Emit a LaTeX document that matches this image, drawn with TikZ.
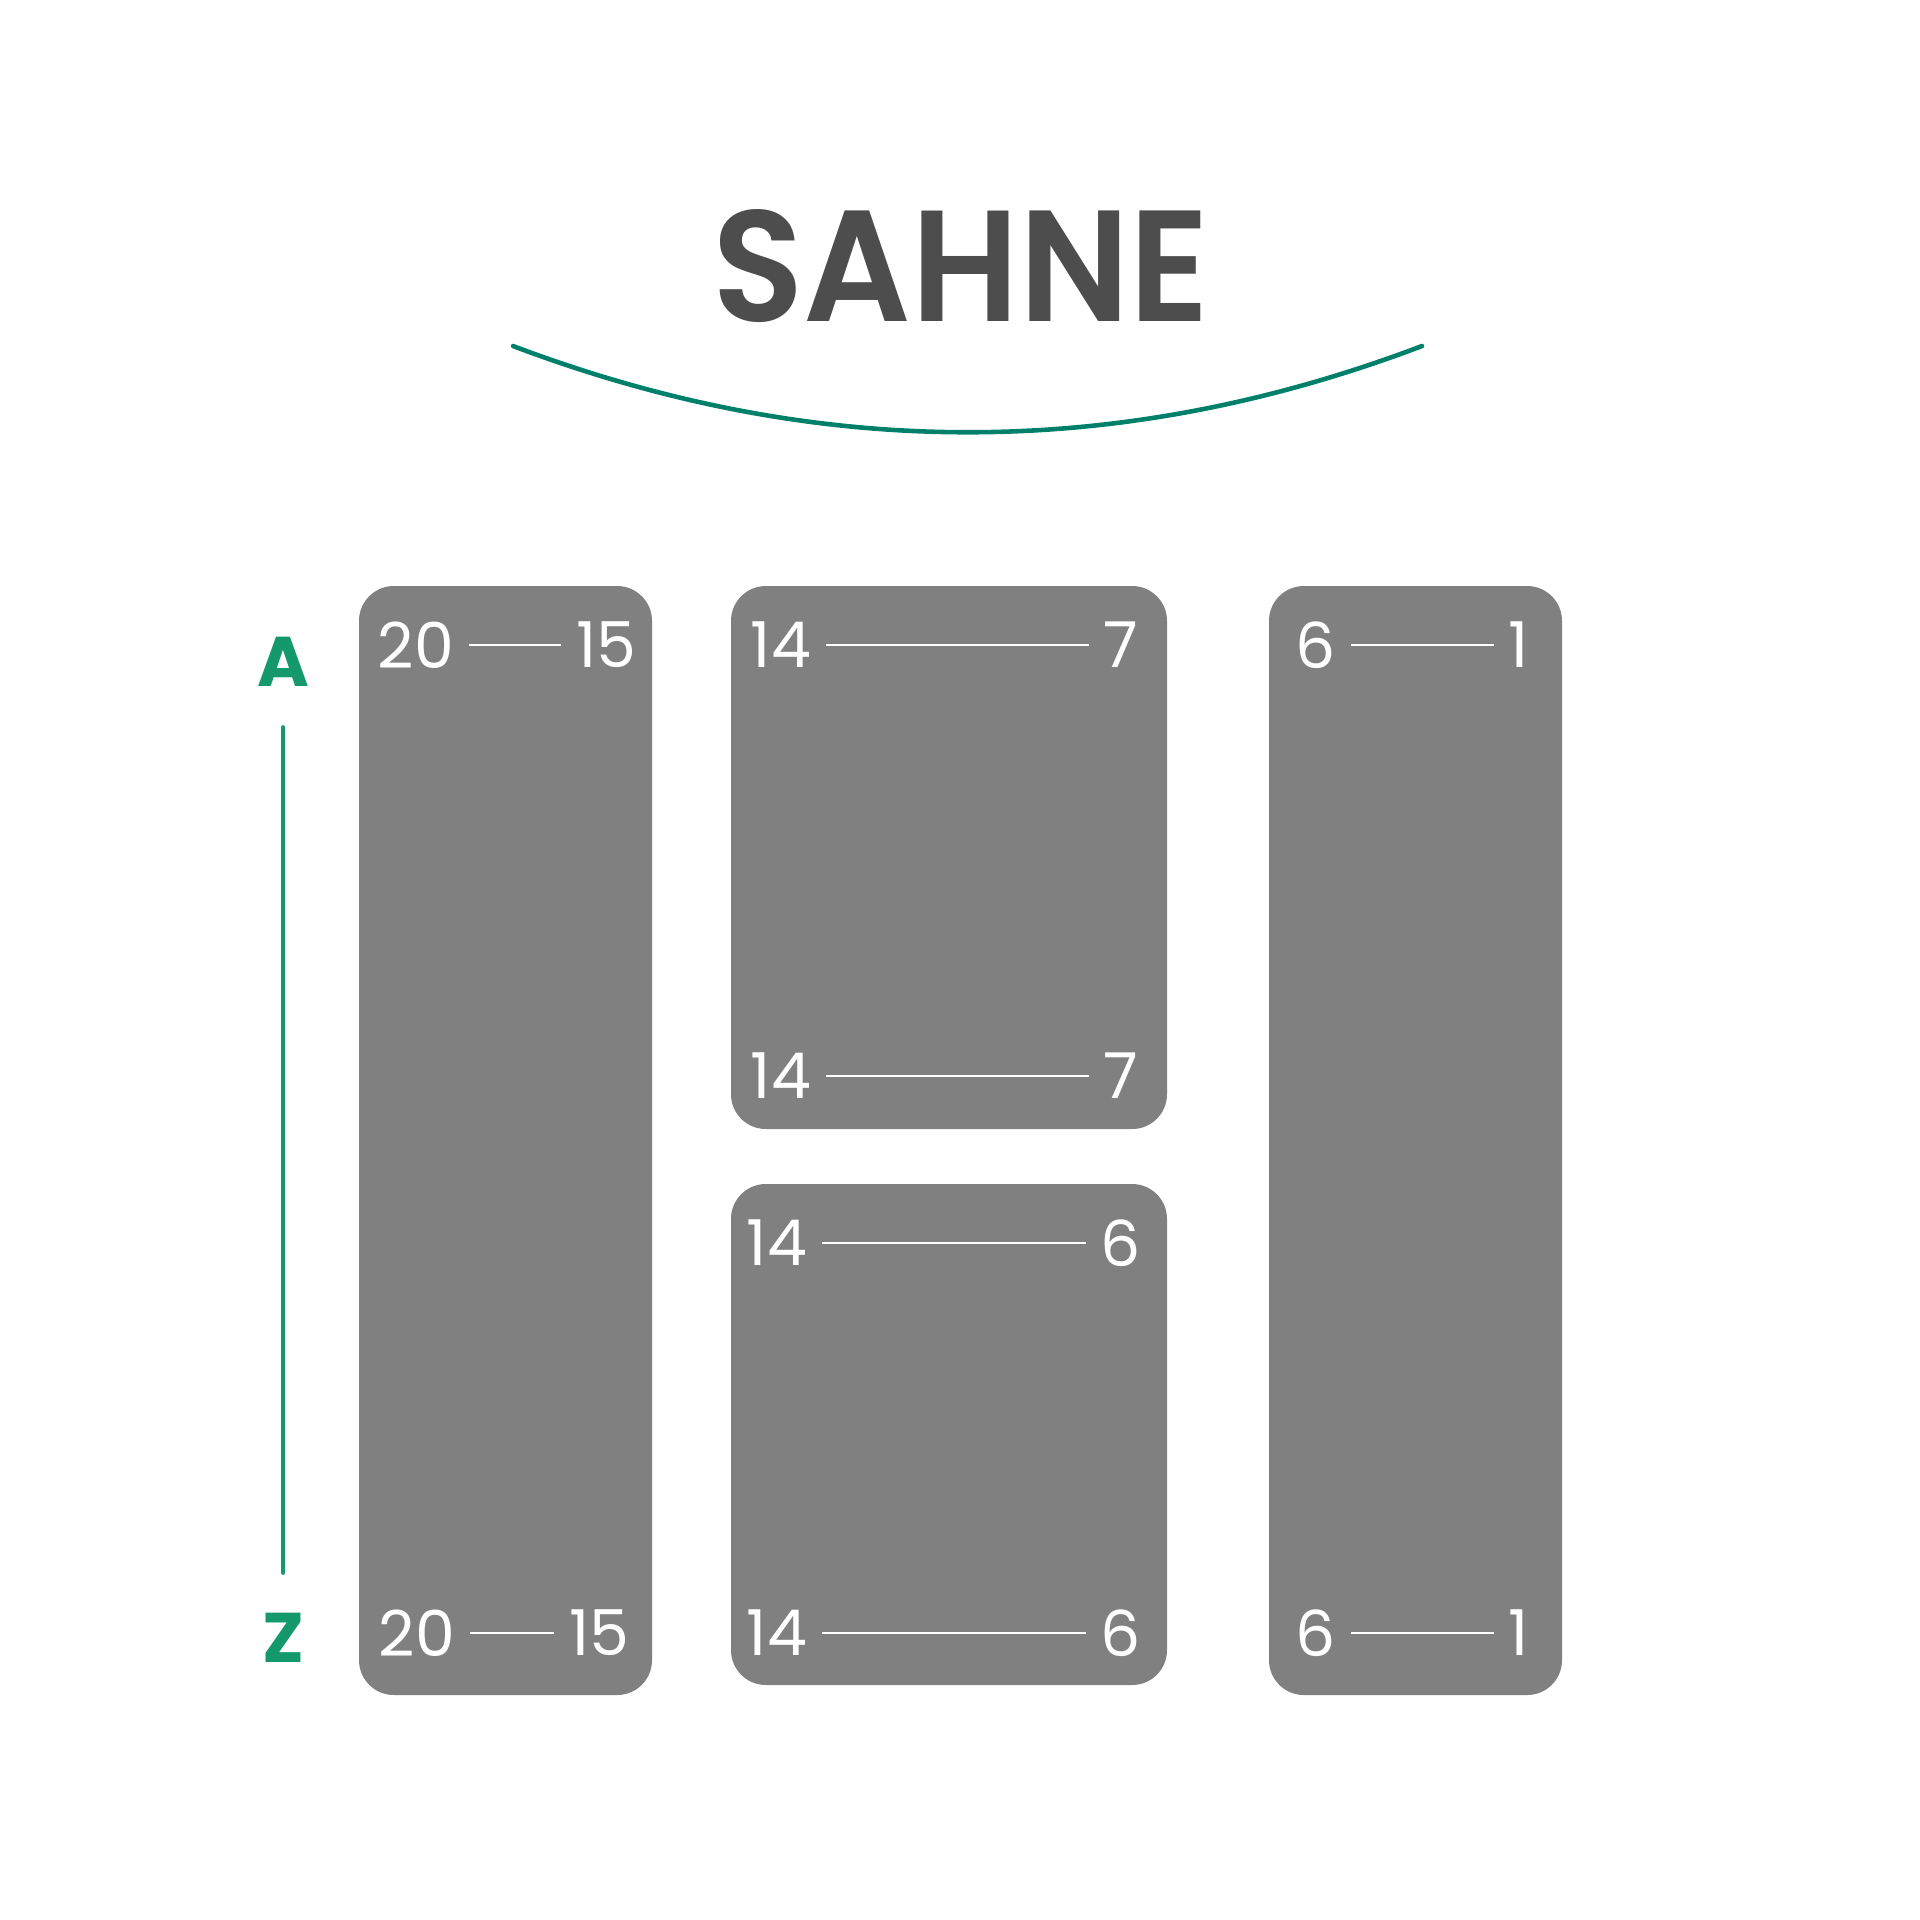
\documentclass[tikz,border=0pt]{standalone}
\usepackage{fontspec}
\setmainfont{Poppins}
\newfontfamily\titlefont{Poppins}[UprightFont=* SemiBold]
\usetikzlibrary{positioning}

\definecolor{boxgray}{HTML}{808080}
\definecolor{titlegray}{HTML}{4D4D4D}
\definecolor{arcgreen}{HTML}{00806A}
\definecolor{azgreen}{HTML}{13996B}

\begin{document}
\begin{tikzpicture}[x=0.01cm, y=-0.01cm,
    box/.style={fill=boxgray, rounded corners=9.9pt},
    num/.style={text=white, font=\fontsize{18}{18}\selectfont, inner sep=4pt},
    letter/.style={text=azgreen, font=\fontsize{20}{20}\selectfont\bfseries},
    rule/.style={draw=white, line width=0.45pt}]
                \useasboundingbox (0,0) rectangle (1920,1920);

                % title
                \node[text=titlegray, font=\fontsize{45}{45}\titlefont] (title) at (961,266) {\scalebox{0.95}[1]{SAHNE}};
                \coordinate (arcL) at (513,346);
                \coordinate (arcR) at (1422,346);
                \draw[arcgreen, line width=1.3pt, line cap=round] (arcL) .. controls (817,461) and (1119,461) .. (arcR);

                % A - Z
                \node[letter] (A) at (283,662) {A};
                \node[letter] (Z) at (283,1638) {Z};
                \draw[azgreen, line width=1.2pt, line cap=round, shorten <=8pt, shorten >=8pt] (A) -- (Z);

                % boxes
                \fill[box] (359,586) rectangle (652,1695);
                \fill[box] (731,586) rectangle (1167,1129);
                \fill[box] (731,1184) rectangle (1167,1685);
                \fill[box] (1269,586) rectangle (1562,1695);

                % left
                \node[num] (l1) at (416,645) {20};
                \node[num] (l2) at (606,645) {15};
                \node[num] (l3) at (417,1633) {20};
                \node[num] (l4) at (599,1633) {15};
                \draw[rule] (l1) -- (l2);
                \draw[rule] (l3) -- (l4);

                % middle top
                \node[num] (m1) at (781,645) {14};
                \node[num] (m2) at (1121,645) {7};
                \node[num] (m3) at (781,1076) {14};
                \node[num] (m4) at (1121,1076) {7};
                \draw[rule] (m1) -- (m2);
                \draw[rule] (m3) -- (m4);

                % middle bottom
                \node[num] (b1) at (777,1243) {14};
                \node[num] (b2) at (1121,1243) {6};
                \node[num] (b3) at (777,1633) {14};
                \node[num] (b4) at (1121,1633) {6};
                \draw[rule] (b1) -- (b2);
                \draw[rule] (b3) -- (b4);

                % right
                \node[num] (r1) at (1316,645) {6};
                \node[num] (r2) at (1519,645) {1};
                \node[num] (r3) at (1316,1633) {6};
                \node[num] (r4) at (1519,1633) {1};
                \draw[rule] (r1) -- (r2);
                \draw[rule] (r3) -- (r4);
\end{tikzpicture}
\end{document}
